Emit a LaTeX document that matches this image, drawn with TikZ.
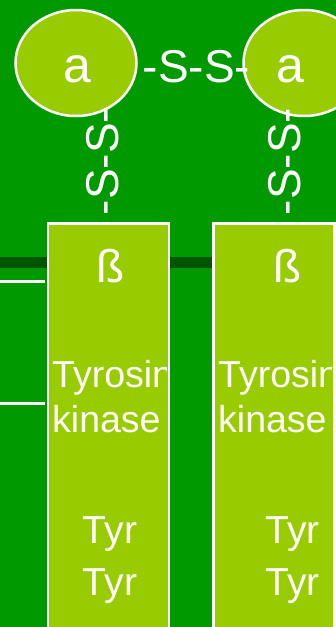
\documentclass[tikz,border=0pt]{standalone}
\usepackage{fontspec}
\setmainfont{Liberation Sans}
\usetikzlibrary{shapes.geometric}
\definecolor{bggreen}{HTML}{009900}
\definecolor{darkband}{HTML}{005500}
\definecolor{lime}{HTML}{99CC00}
\tikzset{
  chain/.style={draw=white, line width=2.5pt, fill=lime},
  oval/.style={chain, ellipse, minimum width=121pt, minimum height=106pt, inner sep=0pt},
  lbl/.style={text=white, inner sep=0pt, font=\fontsize{#1}{#1}\selectfont},
  lbl/.default=46,
}
\begin{document}
\begin{tikzpicture}[x=1pt,y=-1pt]
\useasboundingbox (0,0) rectangle (336,627);
\fill[bggreen] (0,0) rectangle (336,627);
% membrane band and lines
\fill[darkband] (0,257) rectangle (336,268);
\draw[white, line width=3pt] (0,281) -- (45,281);
\draw[white, line width=3pt] (0,403) -- (45,403);
\draw[white, line width=3pt] (335,281) -- (336,281);
\draw[white, line width=3pt] (335,403) -- (336,403);
% beta chains
\node[chain, rectangle, minimum width=121pt, minimum height=420pt, anchor=north west, inner sep=0pt] (bl) at (46.5,222) {};
\node[chain, rectangle, minimum width=121pt, minimum height=420pt, anchor=north west, inner sep=0pt] (br) at (212,222) {};
% alpha chains
\node[oval] (al) at (76,63) {};
\node[oval] (ar) at (304,63) {};
% texts
\node[lbl=50, anchor=base] (tal) at (77,82) {a};
\node[lbl=50, anchor=base] (tar) at (290,82) {a};
\node[lbl=46, anchor=base] (ssh) at (196.5,82) {-S-S-};
\node[lbl=46, anchor=base, rotate=90] (ssl) at (118,161.5) {-S-S-};
\node[lbl=46, anchor=base, rotate=90] (ssr) at (300,161.5) {-S-S-};
\node[lbl=46, anchor=base] (bbl) at (111,282) {ß};
\node[lbl=46, anchor=base] (bbr) at (288,282) {ß};
\begin{scope}
\clip (47.75,223) rectangle (166.25,627);
\node[lbl=37.5, anchor=base west] (tkl1) at (52,387) {Tyrosin};
\node[lbl=37.5, anchor=base west] (tkl2) at (52,432) {kinase};
\end{scope}
\begin{scope}
\clip (213.25,223) rectangle (331.75,627);
\node[lbl=37.5, anchor=base west] (tkr1) at (218,387) {Tyrosin};
\node[lbl=37.5, anchor=base west] (tkr2) at (218,432) {kinase};
\end{scope}
\node[lbl=39, anchor=base] (tyl1) at (110,543) {Tyr};
\node[lbl=39, anchor=base] (tyl2) at (110,595) {Tyr};
\node[lbl=39, anchor=base] (tyr1) at (292.5,543) {Tyr};
\node[lbl=39, anchor=base] (tyr2) at (292.5,595) {Tyr};
\end{tikzpicture}
\end{document}
